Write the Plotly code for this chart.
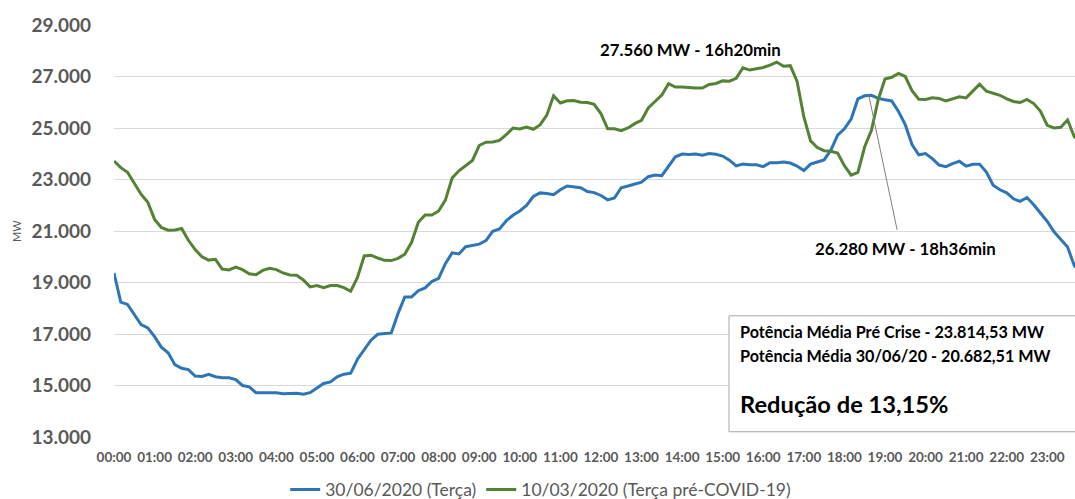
import plotly.graph_objects as go

# time axis: minutes since midnight, 10-minute samples
minutes = [10 * k for k in range(144)]

# 30/06/2020 (Terça) - MW
jun30 = [
    19370, 18240, 18150, 17760, 17370, 17240, 16900, 16490, 16270, 15810,
    15670, 15620, 15370, 15350, 15430, 15340, 15300, 15300, 15230, 15000,
    14950, 14720, 14720, 14700, 14720, 14680, 14700, 14700, 14660, 14720,
    14900, 15080, 15140, 15340, 15440, 15480, 16020, 16380, 16760, 16990,
    17020, 17040, 17800, 18440, 18440, 18680, 18790, 19040, 19160, 19730,
    20150, 20110, 20390, 20450, 20490, 20630, 20990, 21080, 21400, 21610,
    21780, 21990, 22340, 22480, 22460, 22410, 22600, 22750, 22710, 22680,
    22530, 22490, 22380, 22210, 22280, 22680, 22750, 22830, 22900, 23110,
    23170, 23150, 23500, 23880, 23990, 23970, 23990, 23940, 24010, 23980,
    23910, 23750, 23530, 23600, 23570, 23570, 23500, 23650, 23650, 23680,
    23640, 23520, 23350, 23600, 23680, 23760, 24140, 24720, 24970, 25350,
    26130, 26250, 26270, 26150, 26100, 26050, 25640, 25130, 24360, 23960,
    24010, 23810, 23560, 23500, 23620, 23710, 23520, 23590, 23590, 23290,
    22780, 22600, 22480, 22250, 22150, 22300, 22020, 21700, 21370, 20970,
    20680, 20380, 19650, 19400,
]

# 10/03/2020 (Terça pré-COVID-19) - MW
mar10 = [
    23720, 23460, 23280, 22880, 22430, 22120, 21450, 21140, 21030, 21040,
    21100, 20640, 20280, 20000, 19870, 19900, 19520, 19490, 19600, 19500,
    19340, 19300, 19470, 19550, 19500, 19370, 19290, 19280, 19100, 18830,
    18880, 18800, 18880, 18880, 18800, 18660, 19200, 20030, 20060, 19950,
    19860, 19850, 19940, 20100, 20560, 21340, 21620, 21620, 21780, 22200,
    23060, 23340, 23550, 23740, 24320, 24450, 24460, 24520, 24740, 25000,
    24960, 25040, 24950, 25120, 25500, 26250, 25970, 26060, 26070, 26000,
    25990, 25920, 25560, 24970, 24970, 24900, 25000, 25170, 25300, 25780,
    26030, 26280, 26720, 26590, 26590, 26560, 26550, 26550, 26690, 26730,
    26830, 26820, 26930, 27340, 27250, 27300, 27350, 27440, 27560, 27400,
    27420, 26820, 25440, 24500, 24240, 24120, 24100, 24030, 23540, 23170,
    23280, 24270, 24910, 26100, 26900, 26970, 27120, 27000, 26450, 26120,
    26110, 26170, 26150, 26050, 26130, 26210, 26170, 26420, 26700, 26430,
    26360, 26270, 26130, 26030, 25990, 26110, 25950, 25650, 25100, 25000,
    25030, 25310, 24660, 24500,
]

x_tick_vals = [60 * h for h in range(24)]
x_tick_text = ["%02d:00" % h for h in range(24)]
y_tick_vals = [13000, 15000, 17000, 19000, 21000, 23000, 25000, 27000, 29000]
y_tick_text = ["13.000", "15.000", "17.000", "19.000", "21.000", "23.000",
               "25.000", "27.000", "29.000"]

series_names = ["30/06/2020 (Terça)", "10/03/2020 (Terça pré-COVID-19)"]
peak_mar_label = "27.560 MW - 16h20min"
peak_mar = (980, 27560)
peak_jun_label = "26.280 MW - 18h36min"
peak_jun = (1116, 26280)
box_lines = ["Potência Média Pré Crise - 23.814,53 MW",
             "Potência Média 30/06/20 - 20.682,51 MW"]
box_result = "Redução de 13,15%"

FONT = "Lato"
GRAY = "#595959"

fig = go.Figure()
fig.add_trace(go.Scatter(x=minutes, y=jun30, mode="lines", name=series_names[0],
                         line=dict(color="#2E75B6", width=3)))
fig.add_trace(go.Scatter(x=minutes, y=mar10, mode="lines", name=series_names[1],
                         line=dict(color="#548235", width=3)))

fig.update_layout(
    width=1075, height=499,
    margin=dict(l=114, r=0, t=25, b=62, autoexpand=False),
    paper_bgcolor="white", plot_bgcolor="white",
    font=dict(family=FONT, color=GRAY),
    showlegend=True,
    legend=dict(orientation="h", x=0.444, xanchor="center", y=-0.128, yanchor="middle",
                font=dict(size=17.5, color=GRAY, family=FONT), itemwidth=30,
                traceorder="normal"),
    xaxis=dict(range=[0, 1421], tickvals=x_tick_vals, ticktext=x_tick_text,
               tickangle=0, showgrid=False, zeroline=False, showline=False,
               tickfont=dict(size=13.5, color=GRAY, family=FONT, weight="bold"),
               ticklabelstandoff=10),
    yaxis=dict(range=[13000, 29000], tickvals=y_tick_vals, ticktext=y_tick_text,
               showgrid=True, gridcolor="#d9d9d9", gridwidth=1, zeroline=False,
               showline=False,
               tickfont=dict(size=19, color=GRAY, family=FONT, weight="bold"),
               ticklabelstandoff=22),
)

# axis title "MW"
fig.add_annotation(text="MW", xref="paper", yref="paper", x=(16 - 114) / 961, y=0.5,
                   textangle=-90, showarrow=False, xanchor="center", yanchor="middle",
                   font=dict(size=11, color=GRAY, family=FONT))

# peak labels
fig.add_annotation(text="<b>" + peak_mar_label + "</b>", x=852, y=28030, xref="x", yref="y",
                   showarrow=False, font=dict(size=16.8, color="black", family=FONT))
fig.add_annotation(text="<b>" + peak_jun_label + "</b>", x=1171, y=20306, xref="x", yref="y",
                   showarrow=False, font=dict(size=16.8, color="black", family=FONT))
fig.add_shape(type="line", xref="x", yref="y", x0=peak_jun[0], y0=peak_jun[1],
              x1=1158, y1=21044, line=dict(color="#7f7f7f", width=1))

# info box
fig.add_shape(type="rect", xref="paper", yref="y", x0=(729 - 114) / 961, x1=1.02,
              y0=13204, y1=17706, line=dict(color="#a6a6a6", width=1),
              fillcolor="white", layer="above")
fig.add_annotation(text="<b>" + box_lines[0] + "</b>", xref="paper", yref="y",
                   x=(738 - 114) / 961, y=29000 - (332 - 25) * 38.81, xanchor="left",
                   yanchor="middle", showarrow=False,
                   font=dict(size=16.2, color="black", family=FONT))
fig.add_annotation(text="<b>" + box_lines[1] + "</b>", xref="paper", yref="y",
                   x=(738 - 114) / 961, y=29000 - (356 - 25) * 38.81, xanchor="left",
                   yanchor="middle", showarrow=False,
                   font=dict(size=16.2, color="black", family=FONT))
fig.add_annotation(text="<b>" + box_result + "</b>", xref="paper", yref="y",
                   x=(738 - 114) / 961, y=29000 - (404 - 25) * 38.81, xanchor="left",
                   yanchor="middle", showarrow=False,
                   font=dict(size=23.7, color="black", family=FONT))

fig.write_html(
    "out.html",
    config={"displayModeBar": False},
    post_script="document.body.style.margin='0';document.body.style.overflow='hidden';",
)
